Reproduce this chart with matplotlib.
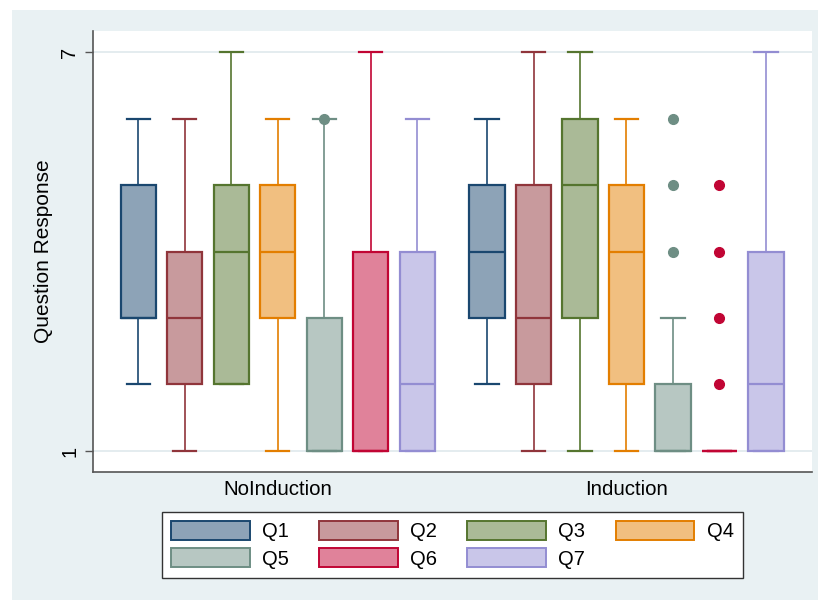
import matplotlib
matplotlib.use("Agg")
import matplotlib.pyplot as plt
from matplotlib.patches import Patch, Rectangle
from matplotlib.colors import to_rgb

plt.rcParams["font.family"] = ["Liberation Sans", "DejaVu Sans"]

# ---- data -------------------------------------------------------------
questions = ["Q1", "Q2", "Q3", "Q4", "Q5", "Q6", "Q7"]
groups = ["NoInduction", "Induction"]

noind_whislo = [2, 1, 2, 1, 1, 1, 1]
noind_q1 = [3, 2, 2, 3, 1, 1, 1]
noind_med = [3, 3, 4, 4, 1, 1, 2]
noind_q3 = [5, 4, 5, 5, 3, 4, 4]
noind_whishi = [6, 6, 7, 6, 6, 7, 6]
noind_fliers = [[], [], [], [], [6], [], []]

ind_whislo = [2, 1, 1, 1, 1, 1, 1]
ind_q1 = [3, 2, 3, 2, 1, 1, 1]
ind_med = [4, 3, 5, 4, 1, 1, 2]
ind_q3 = [5, 5, 6, 5, 2, 1, 4]
ind_whishi = [6, 7, 7, 6, 3, 1, 7]
ind_fliers = [[], [], [], [], [4, 5, 6], [2, 3, 4, 5], []]

y_ticks = [1, 7]

# ---- style ------------------------------------------------------------
line_colors = ["#1a476f", "#90353b", "#55752f", "#e37e00",
               "#6e8e84", "#c10534", "#938dd2"]
bg_color = "#e9f1f3"


def tint(c, frac=0.5):
    r, g, b = to_rgb(c)
    return (r + (1 - r) * frac, g + (1 - g) * frac, b + (1 - b) * frac)


fill_colors = [tint(c) for c in line_colors]

W, H = 818, 602
fig = plt.figure(figsize=(W / 100, H / 100), dpi=100)
fig.patch.set_facecolor("white")
fig.patches.append(Rectangle((12 / W, 2 / H), 1 - 12 / W, (H - 12) / H,
                             transform=fig.transFigure, facecolor=bg_color,
                             edgecolor="none", zorder=-10))

ax_l, ax_r, ax_t, ax_b = 93, 812, 31, 472
ax = fig.add_axes([ax_l / W, 1 - ax_b / H, (ax_r - ax_l) / W, (ax_b - ax_t) / H])
ax.set_facecolor("white")

gap = 1.5
for i, q in enumerate(questions):
    stats = [
        dict(whislo=noind_whislo[i], q1=noind_q1[i], med=noind_med[i],
             q3=noind_q3[i], whishi=noind_whishi[i], fliers=noind_fliers[i]),
        dict(whislo=ind_whislo[i], q1=ind_q1[i], med=ind_med[i],
             q3=ind_q3[i], whishi=ind_whishi[i], fliers=ind_fliers[i]),
    ]
    positions = [i, len(questions) - 1 + gap + i]
    lc, fc = line_colors[i], fill_colors[i]
    ax.bxp(stats, positions=positions, widths=0.76, capwidths=0.5,
           patch_artist=True, showfliers=True,
           boxprops=dict(facecolor=fc, edgecolor=lc, linewidth=1.6),
           medianprops=dict(color=lc, linewidth=1.6),
           whiskerprops=dict(color=lc, linewidth=1.2),
           capprops=dict(color=lc, linewidth=1.6),
           flierprops=dict(marker="o", markerfacecolor=lc,
                           markeredgecolor=lc, markersize=7, linestyle="none"),
           manage_ticks=False, zorder=3)

ax.set_xlim(-0.975, 2 * (len(questions) - 1) + gap + 0.99)
ax.set_ylim(0.684, 7.316)

ax.set_yticks(y_ticks)
ax.set_yticklabels([str(t) for t in y_ticks], rotation=90, va="center",
                   fontsize=14.5)
ax.tick_params(axis="y", length=6, width=1.0, color="#555555", pad=4)
ax.yaxis.grid(True, color="#e4ecef", linewidth=1.4, zorder=0)
ax.set_axisbelow(True)

group_centers = [(len(questions) - 1) / 2,
                 len(questions) - 1 + gap + (len(questions) - 1) / 2]
ax.set_xticks(group_centers)
ax.set_xticklabels(groups, fontsize=14.8)
ax.tick_params(axis="x", length=0, pad=6)

ax.set_ylabel("Question Response", fontsize=15)
ax.yaxis.set_label_coords((53 - ax_l) / (ax_r - ax_l), 0.5)

for s in ("top", "right"):
    ax.spines[s].set_visible(False)
for s in ("left", "bottom"):
    ax.spines[s].set_color("#555555")
    ax.spines[s].set_linewidth(1.2)

# legend filled row by row: Q1-Q4 on top, Q5-Q7 below
handles = [Patch(facecolor=fill_colors[i], edgecolor=line_colors[i],
                 linewidth=1.4, label=q) for i, q in enumerate(questions)]
ncol = 4
order = [r * ncol + c for c in range(ncol) for r in range(2)
         if r * ncol + c < len(handles)]
leg = fig.legend(handles=[handles[k] for k in order], ncol=ncol,
                 loc="upper left",
                 bbox_to_anchor=(162 / W, 1 - 512 / H), fontsize=14.5,
                 frameon=True, fancybox=False, framealpha=1,
                 edgecolor="#333333", handlelength=3.9, handleheight=1.05,
                 handletextpad=0.62, columnspacing=1.5, borderpad=0.45,
                 labelspacing=0.35, borderaxespad=0)
leg.get_frame().set_linewidth(1.0)

fig.savefig("out.png", dpi=100, facecolor=fig.get_facecolor())
